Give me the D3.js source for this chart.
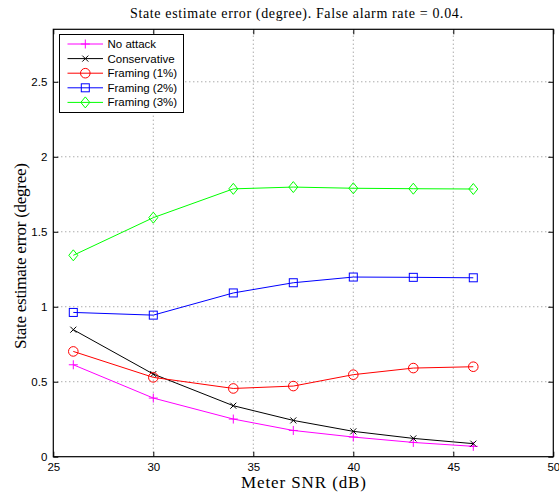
<!DOCTYPE html>
<html><head><meta charset="utf-8">
<script src="https://cdn.jsdelivr.net/npm/d3@7"></script>
<style>body{margin:0;background:#fff}</style>
</head><body>
<svg id="c" width="559" height="492"></svg>
<script>
const snr = [26, 30, 34, 37, 40, 43, 46];
const noAttack = [0.613, 0.391, 0.251, 0.175, 0.131, 0.095, 0.069];
const conservative = [0.847, 0.551, 0.340, 0.242, 0.169, 0.122, 0.087];
const framing1 = [0.702, 0.529, 0.455, 0.471, 0.547, 0.591, 0.600];
const framing2 = [0.962, 0.944, 1.092, 1.160, 1.198, 1.196, 1.193];
const framing3 = [1.343, 1.594, 1.786, 1.798, 1.790, 1.787, 1.785];
const seriesNames = ["No attack", "Conservative", "Framing (1%)", "Framing (2%)", "Framing (3%)"];
const xTicks = [25, 30, 35, 40, 45, 50];
const yTicks = [0, 0.5, 1, 1.5, 2, 2.5];
const titleText = "State estimate error (degree). False alarm rate = 0.04.";
const xLabel = "Meter SNR (dB)";
const yLabel = "State estimate error (degree)";

const series = [
  {name: seriesNames[0], values: noAttack, color: "#ff00ff", marker: "plus"},
  {name: seriesNames[1], values: conservative, color: "#000000", marker: "x"},
  {name: seriesNames[2], values: framing1, color: "#ff0000", marker: "circle"},
  {name: seriesNames[3], values: framing2, color: "#0000ff", marker: "square"},
  {name: seriesNames[4], values: framing3, color: "#00ff00", marker: "diamond"}
];

const L = 53.3, R = 553.3, T = 29.3, B = 456.7;
const x = d3.scaleLinear().domain([25, 50]).range([L, R]);
const y = d3.scaleLinear().domain([0, 2.85]).range([B, T]);
const svg = d3.select("#c");
const sans = "'Liberation Sans', Arial, Helvetica, sans-serif";
const serif = "'Liberation Serif', 'DejaVu Serif', serif";

// grid
const grid = svg.append("g").attr("stroke", "#555").attr("stroke-width", 0.7).attr("stroke-dasharray", "1,3");
xTicks.slice(1, -1).forEach(t => grid.append("line").attr("x1", x(t)).attr("x2", x(t)).attr("y1", B).attr("y2", T));
yTicks.slice(1).forEach(t => grid.append("line").attr("x1", L).attr("x2", R).attr("y1", y(t)).attr("y2", y(t)));

// axes (ticks inward)
const tl = 5;
const ax = svg.append("g");
ax.append("g").attr("transform", `translate(0,${B})`)
  .call(d3.axisBottom(x).tickValues(xTicks).tickSizeInner(-tl).tickSizeOuter(0).tickPadding(6).tickFormat(d3.format("d")));
ax.append("g").attr("transform", `translate(0,${T})`)
  .call(d3.axisTop(x).tickValues(xTicks).tickSizeInner(-tl).tickSizeOuter(0).tickFormat(""));
ax.append("g").attr("transform", `translate(${L},0)`)
  .call(d3.axisLeft(y).tickValues(yTicks).tickSizeInner(-tl).tickSizeOuter(0).tickPadding(6).tickFormat(d => d === 0 ? "0" : String(d)));
ax.append("g").attr("transform", `translate(${R},0)`)
  .call(d3.axisRight(y).tickValues(yTicks).tickSizeInner(-tl).tickSizeOuter(0).tickFormat(""));
ax.selectAll(".domain").remove();
ax.selectAll("line").attr("stroke", "#000").attr("stroke-width", 1);
ax.selectAll("text").attr("font-family", sans).attr("font-size", 11.5).attr("fill", "#000");
svg.append("rect").attr("x", L).attr("y", T).attr("width", R - L).attr("height", B - T)
  .attr("fill", "none").attr("stroke", "#000").attr("stroke-width", 1.2);

function drawMarker(g, type, cx, cy, color) {
  if (type === "plus") {
    g.append("path").attr("d", `M${cx-4.5},${cy}H${cx+4.5}M${cx},${cy-4.5}V${cy+4.5}`).attr("stroke", color).attr("fill", "none");
  } else if (type === "x") {
    g.append("path").attr("d", `M${cx-3},${cy-3}L${cx+3},${cy+3}M${cx-3},${cy+3}L${cx+3},${cy-3}`).attr("stroke", color).attr("fill", "none");
  } else if (type === "circle") {
    g.append("circle").attr("cx", cx).attr("cy", cy).attr("r", 4.8).attr("stroke", color).attr("fill", "none");
  } else if (type === "square") {
    g.append("rect").attr("x", cx-4).attr("y", cy-4).attr("width", 8).attr("height", 8).attr("stroke", color).attr("fill", "none");
  } else if (type === "diamond") {
    g.append("path").attr("d", `M${cx},${cy-5.5}L${cx+4.5},${cy}L${cx},${cy+5.5}L${cx-4.5},${cy}Z`).attr("stroke", color).attr("fill", "none");
  }
}

const line = d3.line().x((d, i) => x(snr[i])).y(d => y(d));
series.forEach(s => {
  const g = svg.append("g").attr("stroke-width", 1);
  g.append("path").attr("d", line(s.values)).attr("fill", "none").attr("stroke", s.color).attr("stroke-width", 1);
  s.values.forEach((v, i) => drawMarker(g, s.marker, x(snr[i]), y(v), s.color));
});

// legend
const lg = svg.append("g");
lg.append("rect").attr("x", 59.5).attr("y", 34.5).attr("width", 124).attr("height", 78)
  .attr("fill", "#fff").attr("stroke", "#000").attr("stroke-width", 1);
series.forEach((s, i) => {
  const yy = 44 + i * 14.6;
  const g = lg.append("g").attr("stroke-width", 1);
  g.append("line").attr("x1", 67.5).attr("x2", 103).attr("y1", yy).attr("y2", yy).attr("stroke", s.color);
  drawMarker(g, s.marker, 85.3, yy, s.color);
  lg.append("text").attr("x", 107.5).attr("y", yy + 4).attr("font-family", sans).attr("font-size", 11.5).text(s.name);
});

// labels
svg.append("text").attr("x", 296.5).attr("y", 18).attr("text-anchor", "middle")
  .attr("font-family", serif).attr("font-size", 14).attr("textLength", 333).attr("lengthAdjust", "spacing").text(titleText);
svg.append("text").attr("x", 303.5).attr("y", 488).attr("text-anchor", "middle")
  .attr("font-family", serif).attr("font-size", 17).attr("textLength", 125).attr("lengthAdjust", "spacing").text(xLabel);
svg.append("text").attr("transform", "translate(25.5,256) rotate(-90)").attr("text-anchor", "middle")
  .attr("font-family", serif).attr("font-size", 17).attr("textLength", 186).attr("lengthAdjust", "spacing").text(yLabel);
</script>
</body></html>
